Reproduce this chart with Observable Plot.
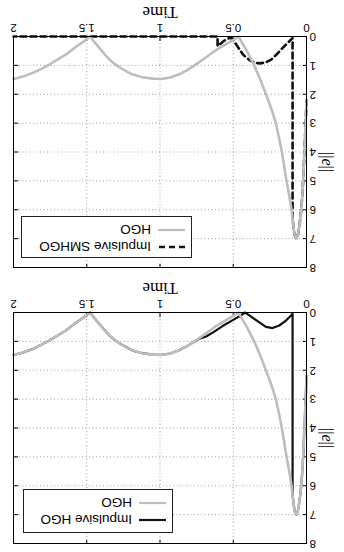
<!DOCTYPE html>
<html>
<head>
<meta charset="utf-8">
<script src="https://cdn.jsdelivr.net/npm/d3@7"></script>
<script src="https://cdn.jsdelivr.net/npm/@observablehq/plot@0.6"></script>
<style>
  html, body { margin: 0; padding: 0; background: white; }
  #root { position: relative; width: 344px; height: 552px; transform: rotate(180deg); background: white; }
  .panel { position: relative; width: 344px; height: 276px; }
  .legend { position: absolute; background: white; border: 1px solid #222; box-sizing: border-box;
            font-family: "Liberation Sans", Arial, sans-serif; font-size: 13.5px; color: #000; }
  .legend .row { position: absolute; left: 0; height: 16px; display: flex; align-items: center; white-space: nowrap; }
  .legend svg { display: block; }
</style>
</head>
<body>
<div id="root"></div>
<script>
// ---- data ----
const xTicks = [0, 0.5, 1, 1.5, 2];
const yTicks = [0, 1, 2, 3, 4, 5, 6, 7, 8];

const hgoTime = [0, 0.004, 0.009, 0.015, 0.022, 0.03, 0.038, 0.047, 0.056, 0.062, 0.068, 0.075, 0.082, 0.09, 0.102, 0.118, 0.136, 0.152, 0.168, 0.188, 0.209, 0.24, 0.277, 0.315, 0.357, 0.385, 0.41, 0.44, 0.464, 0.5, 0.56, 0.618, 0.68, 0.73, 0.78, 0.82, 0.87, 0.93, 0.99, 1.05, 1.12, 1.19, 1.26, 1.31, 1.345, 1.38, 1.41, 1.45, 1.477, 1.52, 1.58, 1.641, 1.7, 1.755, 1.81, 1.868, 1.93, 2.0];
const hgoValue = [2.2, 2.8, 3.4, 4.1, 4.9, 5.6, 6.1, 6.5, 6.8, 6.93, 7.0, 6.97, 6.85, 6.55, 6.0, 5.5, 5.0, 4.5, 4.0, 3.5, 3.0, 2.5, 2.0, 1.5, 1.0, 0.72, 0.47, 0.22, 0.0, 0.12, 0.3, 0.47, 0.7, 0.88, 1.05, 1.18, 1.31, 1.42, 1.47, 1.46, 1.41, 1.31, 1.12, 0.95, 0.8, 0.6, 0.42, 0.18, 0.0, 0.17, 0.38, 0.62, 0.8, 0.97, 1.12, 1.26, 1.38, 1.47];

const impHgoTime = [0, 0.004, 0.009, 0.015, 0.022, 0.03, 0.038, 0.047, 0.056, 0.062, 0.068, 0.075, 0.082, 0.09, 0.095, 0.095, 0.1, 0.14, 0.186, 0.232, 0.277, 0.334, 0.39, 0.42, 0.455, 0.515, 0.573, 0.635, 0.685, 0.735, 0.78, 0.82, 0.87, 0.93, 0.99, 1.05, 1.12, 1.19, 1.26, 1.31, 1.345, 1.38, 1.41, 1.45, 1.477, 1.52, 1.58, 1.641, 1.7, 1.755, 1.81, 1.868, 1.93, 2.0];
const impHgoValue = [2.2, 2.8, 3.4, 4.1, 4.9, 5.6, 6.1, 6.5, 6.8, 6.93, 7.0, 6.97, 6.85, 6.55, 6.3, 0.03, 0.08, 0.28, 0.45, 0.54, 0.5, 0.3, 0.1, 0.0, 0.12, 0.3, 0.47, 0.68, 0.83, 0.92, 1.05, 1.18, 1.31, 1.42, 1.47, 1.46, 1.41, 1.31, 1.12, 0.95, 0.8, 0.6, 0.42, 0.18, 0.0, 0.17, 0.38, 0.62, 0.8, 0.97, 1.12, 1.26, 1.38, 1.47];

const impSmhgoTime = [0, 0.004, 0.009, 0.015, 0.022, 0.03, 0.038, 0.047, 0.056, 0.062, 0.068, 0.075, 0.082, 0.09, 0.095, 0.095, 0.104, 0.14, 0.173, 0.21, 0.241, 0.28, 0.32, 0.35, 0.377, 0.41, 0.434, 0.46, 0.479, 0.497, 0.513, 0.53, 0.56, 0.585, 0.607, 0.607, 1.0, 1.5, 2.0];
const impSmhgoValue = [2.2, 2.8, 3.4, 4.1, 4.9, 5.6, 6.1, 6.5, 6.8, 6.93, 7.0, 6.97, 6.85, 6.55, 6.3, 0.05, 0.1, 0.28, 0.45, 0.65, 0.8, 0.9, 0.93, 0.91, 0.85, 0.74, 0.62, 0.43, 0.28, 0.14, 0.05, 0.06, 0.14, 0.24, 0.33, 0.0, 0.0, 0.0, 0.0];

const xLabel = "Time";
const yLabel = "||e||";

const toRows = (ts, vs) => ts.map((t, i) => ({t, v: vs[i]}));
const hgo = toRows(hgoTime, hgoValue);
const impHgo = toRows(impHgoTime, impHgoValue);
const impSmhgo = toRows(impSmhgoTime, impSmhgoValue);

const GRAY = "#bdbdbd";

function panel(impData, impStyle) {
  const chart = Plot.plot({
    width: 344, height: 276,
    marginTop: 8, marginBottom: 37, marginLeft: 37, marginRight: 14,
    style: {fontFamily: "'Liberation Sans', Arial, sans-serif", fontSize: "11.5px", background: "white", overflow: "visible"},
    x: {domain: [0, 2], ticks: xTicks},
    y: {domain: [0, 8], ticks: yTicks},
    marks: [
      Plot.gridX(xTicks.slice(1, -1), {stroke: "#888", strokeOpacity: 0.8, strokeDasharray: "1,2.5"}),
      Plot.gridY(yTicks.slice(1, -1), {stroke: "#888", strokeOpacity: 0.8, strokeDasharray: "1,2.5"}),
      // inward ticks on all sides
      Plot.ruleX(xTicks, {y1: 0, y2: 0.14, stroke: "#000"}),
      Plot.ruleX(xTicks, {y1: 7.86, y2: 8, stroke: "#000"}),
      Plot.ruleY(yTicks, {x1: 0, x2: 0.028, stroke: "#000"}),
      Plot.ruleY(yTicks, {x1: 1.972, x2: 2, stroke: "#000"}),
      Plot.axisX({ticks: xTicks, tickSize: 0, tickPadding: 4, tickFormat: d => String(d), label: null}),
      Plot.axisY({ticks: yTicks, tickSize: 0, tickPadding: 3, tickFormat: d => String(d), label: null}),
      Plot.line(impData, {x: "t", y: "v", ...impStyle}),
      Plot.line(hgo, {x: "t", y: "v", stroke: GRAY, strokeWidth: 2.6}),
      Plot.frame({stroke: "#000", strokeWidth: 1}),
      Plot.text([xLabel], {frameAnchor: "bottom", dy: 24, lineAnchor: "middle", fontFamily: "'Liberation Serif', 'Times New Roman', serif", fontSize: 17, fill: "#000"}),
      Plot.text([yLabel], {frameAnchor: "left", dx: -21, rotate: -90, lineAnchor: "middle", fontFamily: "'Liberation Serif', 'Times New Roman', serif", fontSize: 16, fill: "#000"})
    ]
  });
  // italic e in the norm label
  chart.querySelectorAll("text").forEach(el => {
    if (el.textContent === yLabel) {
      el.textContent = "";
      const parts = [["||", "normal"], ["e", "italic"], ["||", "normal"]];
      parts.forEach(([s, st]) => {
        const ts = document.createElementNS("http://www.w3.org/2000/svg", "tspan");
        ts.setAttribute("font-style", st);
        ts.textContent = s;
        el.appendChild(ts);
      });
    }
  });
  return chart;
}

function legend(box, entries) {
  const div = document.createElement("div");
  div.className = "legend";
  Object.assign(div.style, {left: box.left + "px", top: box.top + "px", width: box.width + "px", height: box.height + "px"});
  entries.forEach((e, i) => {
    const row = document.createElement("div");
    row.className = "row";
    row.style.top = (box.rowTop[i] - 8) + "px";
    const svg = document.createElementNS("http://www.w3.org/2000/svg", "svg");
    svg.setAttribute("width", 40); svg.setAttribute("height", 16);
    const ln = document.createElementNS("http://www.w3.org/2000/svg", "line");
    ln.setAttribute("x1", 6); ln.setAttribute("x2", 33); ln.setAttribute("y1", 8); ln.setAttribute("y2", 8);
    ln.setAttribute("stroke", e.stroke); ln.setAttribute("stroke-width", e.width);
    if (e.dash) ln.setAttribute("stroke-dasharray", e.dash);
    svg.appendChild(ln);
    row.appendChild(svg);
    const span = document.createElement("span");
    span.textContent = e.label;
    row.appendChild(span);
    div.appendChild(row);
  });
  return div;
}

const root = document.getElementById("root");

const p1 = document.createElement("div"); p1.className = "panel";
p1.appendChild(panel(impHgo, {stroke: "#111", strokeWidth: 2.2}));
p1.appendChild(legend({left: 171, top: 19, width: 150, height: 44, rowTop: [12, 29]}, [
  {label: "Impulsive HGO", stroke: "#111", width: 2.2},
  {label: "HGO", stroke: GRAY, width: 2.2}
]));
root.appendChild(p1);

const p2 = document.createElement("div"); p2.className = "panel";
p2.appendChild(panel(impSmhgo, {stroke: "#111", strokeWidth: 2.6, strokeDasharray: "6,4"}));
p2.appendChild(legend({left: 152, top: 18, width: 171, height: 42, rowTop: [10, 27]}, [
  {label: "Impulsive SMHGO", stroke: "#111", width: 2.6, dash: "6,4"},
  {label: "HGO", stroke: GRAY, width: 2.2}
]));
root.appendChild(p2);
</script>
</body>
</html>
